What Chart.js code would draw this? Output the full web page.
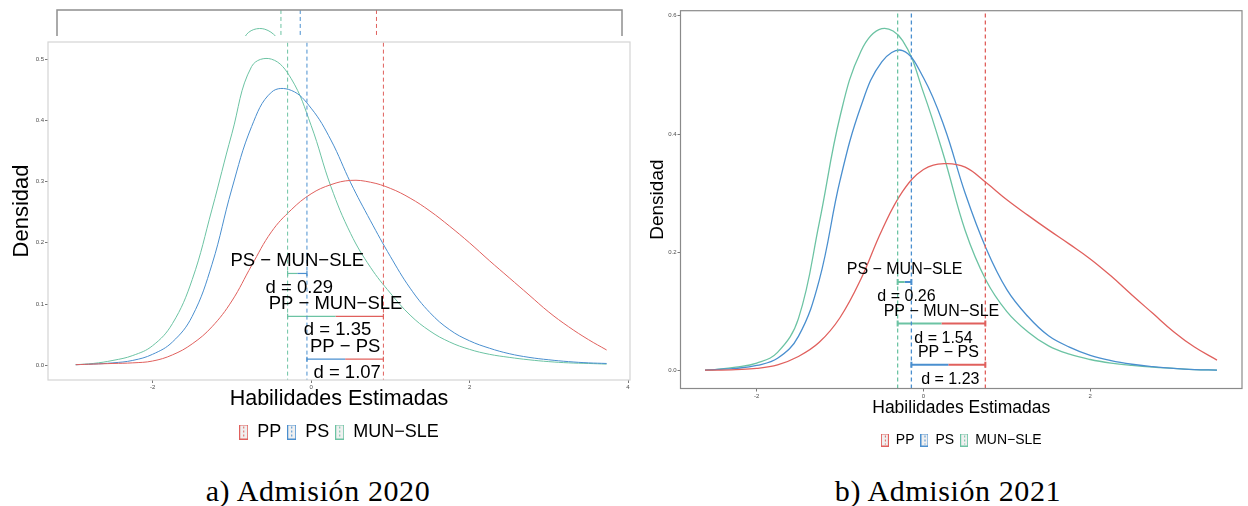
<!DOCTYPE html>
<html>
<head>
<meta charset="utf-8">
<script src="https://cdn.jsdelivr.net/npm/chart.js"></script>
<style>
  body { margin: 0; width: 1248px; height: 506px; position: relative; overflow: hidden; background: #fff; }
  .box { position: absolute; }
  #stripA { left: 0; top: 0; width: 640px; height: 36px; overflow: hidden; }
  #panelA { left: 0; top: 36px; width: 640px; height: 415px; background: #fff; }
  #panelB { left: 640px; top: 0; width: 608px; height: 457px; background: #fff; }
  .cap { position: absolute; top: 475px; width: 400px; text-align: center; letter-spacing: 0.6px;
         font-family: "Liberation Serif", "DejaVu Serif", serif; font-size: 30px; line-height: 32px; color: #000; }
</style>
</head>
<body>
<div class="box" id="stripA"><canvas id="chartStrip" width="640" height="400"></canvas></div>
<div class="box" id="panelA"><canvas id="chartA" width="640" height="415"></canvas></div>
<div class="box" id="panelB"><canvas id="chartB" width="608" height="457"></canvas></div>
<div class="cap" style="left:118px">a) Admisión 2020</div>
<div class="cap" style="left:748px">b) Admisión 2021</div>

<script>
// groups and values
const groups = ['PP', 'PS', 'MUN−SLE'];

// Admision 2020
const x2020 = [-2.97, -2.75, -2.5, -2.25, -2, -1.75, -1.5, -1.25, -1, -0.75, -0.5, -0.25, 0, 0.25, 0.5, 0.75, 1, 1.25, 1.5, 1.75, 2, 2.25, 2.5, 2.75, 3, 3.25, 3.5, 3.73];
const pp2020 = [0.001, 0.002, 0.003, 0.004, 0.007, 0.017, 0.035, 0.063, 0.105, 0.163, 0.218, 0.254, 0.280, 0.295, 0.302, 0.299, 0.289, 0.273, 0.252, 0.227, 0.200, 0.171, 0.143, 0.115, 0.087, 0.063, 0.042, 0.025];
const ps2020 = [0.001, 0.002, 0.004, 0.008, 0.018, 0.038, 0.080, 0.165, 0.288, 0.390, 0.446, 0.449, 0.420, 0.368, 0.298, 0.236, 0.178, 0.126, 0.086, 0.058, 0.040, 0.028, 0.019, 0.013, 0.009, 0.006, 0.004, 0.003];
const mun2020 = [0.001, 0.003, 0.008, 0.016, 0.032, 0.068, 0.140, 0.255, 0.378, 0.488, 0.500, 0.468, 0.392, 0.292, 0.215, 0.160, 0.118, 0.082, 0.056, 0.038, 0.026, 0.018, 0.013, 0.009, 0.006, 0.004, 0.003, 0.002];
const means2020 = [0.913, -0.052, -0.296];
const d2020 = ['0.29', '1.35', '1.07'];

// Admision 2021
const x2021 = [-2.62, -2.5, -2.25, -2, -1.75, -1.5, -1.25, -1, -0.75, -0.5, -0.25, 0, 0.25, 0.5, 0.75, 1, 1.25, 1.5, 1.75, 2, 2.25, 2.5, 2.75, 3, 3.25, 3.52];
const pp2021 = [0.001, 0.001, 0.002, 0.004, 0.010, 0.024, 0.048, 0.090, 0.155, 0.237, 0.303, 0.340, 0.350, 0.344, 0.318, 0.289, 0.263, 0.238, 0.214, 0.189, 0.160, 0.128, 0.097, 0.066, 0.040, 0.018];
const ps2021 = [0.001, 0.002, 0.004, 0.009, 0.021, 0.058, 0.153, 0.322, 0.447, 0.522, 0.541, 0.495, 0.412, 0.300, 0.207, 0.137, 0.092, 0.059, 0.040, 0.026, 0.017, 0.011, 0.007, 0.004, 0.002, 0.001];
const mun2021 = [0.001, 0.002, 0.006, 0.013, 0.031, 0.088, 0.250, 0.430, 0.540, 0.578, 0.558, 0.470, 0.360, 0.237, 0.153, 0.100, 0.066, 0.042, 0.028, 0.019, 0.013, 0.009, 0.006, 0.004, 0.002, 0.001];
const means2021 = [0.742, -0.145, -0.31];
const d2021 = ['0.26', '1.54', '1.23'];

// pairwise comparisons (indices into groups), drawn top to bottom
const pairs = [[1, 2], [0, 2], [0, 1]];
const pairLabels = ['PS − MUN−SLE', 'PP − MUN−SLE', 'PP − PS'];
const pairY = [0.15, 0.08, 0.01];

const COL = ['#e0605d', '#4a8fcf', '#6cc3a3'];
const FAMILY = '"Liberation Sans", Arial, Helvetica, sans-serif';
Chart.defaults.font.family = FAMILY;
Chart.defaults.animation = false;

// legend key: grey box, coloured outline, dashed centre line (like ggplot)
function makeKey(color, w, h) {
  const c = document.createElement('canvas');
  c.width = w; c.height = h;
  const g = c.getContext('2d');
  g.fillStyle = '#f0f0f0';
  g.fillRect(0, 0, w, h);
  g.strokeStyle = color;
  g.lineWidth = 1;
  g.strokeRect(0.5, 0.5, w - 1, h - 1);
  g.setLineDash([2, 2]);
  g.beginPath();
  g.moveTo(Math.floor(w / 2) + 0.5, 2);
  g.lineTo(Math.floor(w / 2) + 0.5, h - 2);
  g.stroke();
  return c;
}

function curveSets(xs, series, lw, keys) {
  return series.map((ys, i) => ({
    label: groups[i],
    data: xs.map((x, k) => ({ x: x, y: ys[k] })),
    borderColor: COL[i],
    borderWidth: lw,
    pointRadius: 0,
    pointStyle: keys ? keys[i] : 'circle',
    tension: 0.4,
    fill: false,
    isCurve: true
  }));
}

function meanSets(means, lw) {
  return means.map((m, i) => ({
    label: groups[i] + ' mean',
    data: [{ x: m, y: -1 }, { x: m, y: 2 }],
    borderColor: COL[i],
    borderWidth: lw,
    borderDash: [4, 3],
    pointRadius: 0
  }));
}

function pairSets(means, lw, cap) {
  const out = [];
  pairs.forEach(([a, b], p) => {
    const lo = means[a] < means[b] ? a : b;
    const hi = lo === a ? b : a;
    const mid = (means[lo] + means[hi]) / 2;
    [[lo, means[lo], mid, [cap, 0]], [hi, mid, means[hi], [0, cap]]].forEach(([g, x0, x1, r]) => {
      out.push({
        label: pairLabels[p],
        data: [{ x: x0, y: pairY[p] }, { x: x1, y: pairY[p] }],
        borderColor: COL[g],
        borderWidth: lw,
        pointRadius: r,
        pointStyle: 'line',
        rotation: 90,
        pointBorderColor: COL[g],
        pointBorderWidth: lw
      });
    });
  });
  return out;
}

const panelBorder = {
  id: 'panelBorder',
  afterDraw(chart, args, opts) {
    const { ctx, chartArea: a } = chart;
    ctx.save();
    ctx.strokeStyle = opts.color;
    ctx.lineWidth = opts.width;
    ctx.strokeRect(a.left, a.top, a.right - a.left, a.bottom - a.top);
    ctx.restore();
  }
};

function pairText(means, dvals, size, up, down) {
  return {
    id: 'pairText',
    afterDatasetsDraw(chart) {
      const { ctx, scales } = chart;
      ctx.save();
      ctx.fillStyle = '#000';
      ctx.textAlign = 'center';
      ctx.textBaseline = 'middle';
      ctx.font = size + 'px ' + FAMILY;
      pairs.forEach(([a, b], p) => {
        const cx = scales.x.getPixelForValue((means[a] + means[b]) / 2);
        const cy = scales.y.getPixelForValue(pairY[p]);
        ctx.fillText(pairLabels[p], cx, cy + up);
        ctx.fillText('d = ' + dvals[p], cx + 2, cy + down);
      });
      ctx.restore();
    }
  };
}

function axes(o) {
  return {
    x: {
      type: 'linear', min: o.xmin, max: o.xmax,
      afterFit: s => { s.height = o.xh; },
      ticks: { stepSize: 2, includeBounds: false, autoSkip: false, maxRotation: 0,
               font: { size: 6 }, color: '#4d4d4d', padding: 1, callback: v => String(v) },
      grid: { drawOnChartArea: false, drawTicks: true, tickLength: 3, tickColor: '#555', lineWidth: 0.8 },
      border: { display: false },
      title: { display: true, text: 'Habilidades Estimadas', color: '#000',
               font: { size: o.tsize }, padding: { top: 0, bottom: o.tpb } }
    },
    y: {
      type: 'linear', min: o.ymin, max: o.ymax,
      afterFit: s => { s.width = o.yw; },
      ticks: { stepSize: o.ystep, includeBounds: false, font: { size: 6 }, color: '#4d4d4d',
               padding: 1, callback: v => v.toFixed(1) },
      grid: { drawOnChartArea: false, drawTicks: true, tickLength: 3, tickColor: '#555', lineWidth: 0.8 },
      border: { display: false },
      title: { display: true, text: 'Densidad', color: '#000',
               font: { size: o.ysize }, padding: { top: o.ypt, bottom: 0 } }
    }
  };
}

function legendOpts(size, keyW, pad) {
  return {
    position: 'bottom',
    fullSize: false,
    labels: {
      usePointStyle: true, pointStyleWidth: keyW, padding: pad, color: '#000',
      font: { size: size },
      filter: (item, data) => data.datasets[item.datasetIndex].isCurve
    }
  };
}

// ---- panel a: the stray strip of the figure underneath ----
new Chart(document.getElementById('chartStrip'), {
  type: 'line',
  data: { datasets: [...meanSets(means2020, 1), ...curveSets(x2020, [pp2020, ps2020, mun2020], 1)] },
  options: {
    responsive: false,
    layout: { padding: { left: 57, right: 18, top: 10, bottom: 46 } },
    scales: { x: { type: 'linear', min: -3.13, max: 4.02, display: false },
              y: { type: 'linear', min: -0.024, max: 0.531, display: false } },
    plugins: { legend: { display: false }, tooltip: { enabled: false },
               panelBorder: { color: '#8f8f8f', width: 1.5 } }
  },
  plugins: [panelBorder]
});

// ---- panel a ----
const keysA = COL.map(c => makeKey(c, 9, 15));
new Chart(document.getElementById('chartA'), {
  type: 'line',
  data: { datasets: [
    ...meanSets(means2020, 1),
    ...pairSets(means2020, 1.2, 2.5),
    ...curveSets(x2020, [pp2020, ps2020, mun2020], 1, keysA)
  ] },
  options: {
    responsive: false,
    layout: { padding: { left: 0, right: 10, top: 6, bottom: 0 } },
    scales: axes({ xmin: -3.32, xmax: 4.025, ymin: -0.024, ymax: 0.528, ystep: 0.1,
                   xh: 37, yw: 48, tsize: 21.5, tpb: 5, ysize: 22, ypt: 9 }),
    plugins: { legend: legendOpts(18, 9, 6), tooltip: { enabled: false },
               panelBorder: { color: '#d4d4d4', width: 1.2 } }
  },
  plugins: [panelBorder, pairText(means2020, d2020, 18.5, -12.5, 14)]
});

// ---- panel b ----
const keysB = COL.map(c => makeKey(c, 8, 13));
new Chart(document.getElementById('chartB'), {
  type: 'line',
  data: { datasets: [
    ...meanSets(means2021, 1.3),
    ...pairSets(means2021, 2, 3),
    ...curveSets(x2021, [pp2021, ps2021, mun2021], 1.3, keysB)
  ] },
  options: {
    responsive: false,
    layout: { padding: { left: 0, right: 2, top: 10.7, bottom: 0 } },
    scales: axes({ xmin: -2.914, xmax: 3.82, ymin: -0.030, ymax: 0.6084, ystep: 0.2,
                   xh: 38.5, yw: 40.5, tsize: 17.5, tpb: 8, ysize: 19, ypt: 6 }),
    plugins: { legend: legendOpts(14, 8, 6), tooltip: { enabled: false },
               panelBorder: { color: '#8a8a8a', width: 1.2 } }
  },
  plugins: [panelBorder, pairText(means2021, d2021, 16, -12, 15)]
});
</script>
</body>
</html>
